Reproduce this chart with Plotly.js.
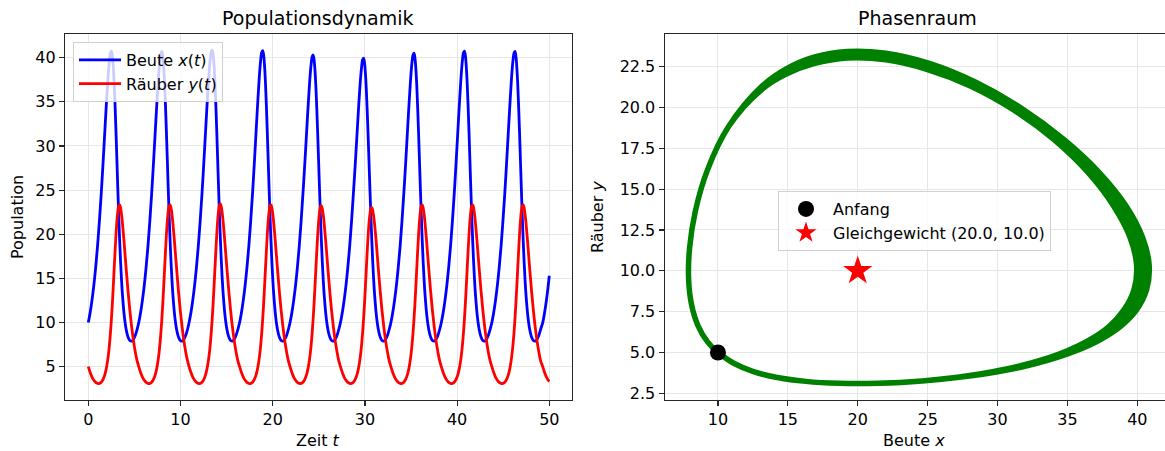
<!DOCTYPE html>
<html>
<head>
<meta charset="utf-8">
<script src="https://cdn.plot.ly/plotly-3.0.1.min.js"></script>
<style>html,body{margin:0;padding:0;background:#fff;}#chart{width:1165px;height:451px;}</style>
</head>
<body>
<div id="chart"></div>
<script>
// Zeitpunkte (pro Zyklus eine Zeile)
const zeit = [
  0,0.2,0.4,0.6,0.8,1,1.2,1.4,1.6,1.7,1.8,1.9,2,2.1,2.2,2.3,2.4,2.5,2.6,2.7,2.8,2.9,3,3.1,3.2,3.3,3.4,3.5,3.6,3.7,3.9,4.1,4.3,4.5,4.7,4.9,5.1,5.3,
  5.47,5.67,5.87,6.07,6.27,6.47,6.67,6.87,7.07,7.17,7.27,7.37,7.47,7.57,7.67,7.77,7.87,7.97,8.07,8.17,8.27,8.37,8.47,8.57,8.67,8.77,8.87,8.97,9.07,9.17,9.37,9.57,9.77,9.97,10.17,10.37,10.57,10.77,
  10.93,11.13,11.33,11.53,11.73,11.93,12.13,12.33,12.53,12.63,12.73,12.83,12.93,13.03,13.13,13.23,13.33,13.43,13.53,13.63,13.73,13.83,13.93,14.03,14.13,14.23,14.33,14.43,14.53,14.63,14.83,15.03,15.23,15.43,15.63,15.83,16.03,16.23,
  16.41,16.61,16.81,17.01,17.21,17.41,17.61,17.81,18.01,18.11,18.21,18.31,18.41,18.51,18.61,18.71,18.81,18.91,19.01,19.11,19.21,19.31,19.41,19.51,19.61,19.71,19.81,19.91,20.01,20.11,20.31,20.51,20.71,20.91,21.11,21.31,21.51,21.71,
  21.88,22.08,22.28,22.48,22.68,22.88,23.08,23.28,23.48,23.58,23.68,23.78,23.88,23.98,24.08,24.18,24.28,24.38,24.48,24.58,24.68,24.78,24.88,24.98,25.08,25.18,25.28,25.38,25.48,25.58,25.78,25.98,26.18,26.38,26.58,26.78,26.98,27.18,
  27.35,27.55,27.75,27.95,28.15,28.35,28.55,28.75,28.95,29.05,29.15,29.25,29.35,29.45,29.55,29.65,29.75,29.85,29.95,30.05,30.15,30.25,30.35,30.45,30.55,30.65,30.75,30.85,30.95,31.05,31.25,31.45,31.65,31.85,32.05,32.25,32.45,32.65,
  32.82,33.02,33.22,33.42,33.62,33.82,34.02,34.22,34.42,34.52,34.62,34.72,34.82,34.92,35.02,35.12,35.22,35.32,35.42,35.52,35.62,35.72,35.82,35.92,36.02,36.12,36.22,36.32,36.42,36.52,36.72,36.92,37.12,37.32,37.52,37.72,37.92,38.12,
  38.29,38.49,38.69,38.89,39.09,39.29,39.49,39.69,39.89,39.99,40.09,40.19,40.29,40.39,40.49,40.59,40.69,40.79,40.89,40.99,41.09,41.19,41.29,41.39,41.49,41.59,41.69,41.79,41.89,41.99,42.19,42.39,42.59,42.79,42.99,43.19,43.39,43.59,
  43.77,43.97,44.17,44.37,44.57,44.77,44.97,45.17,45.37,45.47,45.57,45.67,45.77,45.87,45.97,46.07,46.17,46.27,46.37,46.47,46.57,46.67,46.77,46.87,46.97,47.07,47.17,47.27,47.37,47.47,47.67,47.87,48.07,48.27,48.47,48.67,48.87,49.07,
  49.29,49.49,49.69,49.89,50
];
// Beute x(t)
const beute = [
  10,11.13,12.54,14.24,16.28,18.67,21.45,24.6,28.12,29.97,31.84,33.7,35.51,37.19,38.67,39.83,40.56,40.75,40.28,39.1,37.19,34.64,31.63,28.37,25.1,22.01,19.25,16.86,14.85,13.19,10.75,9.24,8.38,7.97,7.9,8.11,8.57,9.27,
  10,11.13,12.54,14.24,16.28,18.67,21.45,24.6,28.11,29.95,31.82,33.67,35.48,37.15,38.63,39.78,40.51,40.7,40.23,39.05,37.15,34.6,31.6,28.35,25.09,22.01,19.25,16.86,14.85,13.19,10.75,9.24,8.38,7.97,7.9,8.11,8.57,9.27,
  10,11.13,12.54,14.24,16.28,18.67,21.45,24.6,28.15,30.01,31.89,33.76,35.58,37.27,38.76,39.93,40.66,40.85,40.38,39.2,37.28,34.72,31.69,28.41,25.12,22.01,19.25,16.86,14.85,13.19,10.75,9.24,8.38,7.97,7.9,8.11,8.57,9.27,
  10,11.13,12.54,14.24,16.28,18.67,21.45,24.6,28.14,29.99,31.87,33.73,35.55,37.23,38.72,39.88,40.61,40.8,40.33,39.15,37.24,34.68,31.66,28.39,25.11,22.01,19.25,16.86,14.85,13.19,10.75,9.24,8.38,7.97,7.9,8.11,8.57,9.27,
  10,11.13,12.54,14.24,16.28,18.67,21.45,24.6,27.99,29.79,31.62,33.43,35.2,36.83,38.27,39.38,40.11,40.3,39.83,38.65,36.79,34.28,31.36,28.19,25.01,22.01,19.25,16.86,14.85,13.19,10.75,9.24,8.38,7.97,7.9,8.11,8.57,9.27,
  10,11.13,12.54,14.24,16.28,18.67,21.45,24.6,27.88,29.65,31.44,33.22,34.95,36.55,37.95,39.03,39.76,39.95,39.48,38.3,36.47,34,31.15,28.05,24.94,22.01,19.25,16.86,14.85,13.19,10.75,9.24,8.38,7.97,7.9,8.11,8.57,9.27,
  10,11.13,12.54,14.24,16.28,18.67,21.45,24.6,28.05,29.87,31.72,33.55,35.34,36.99,38.45,39.58,40.31,40.5,40.03,38.85,36.97,34.44,31.48,28.27,25.05,22.01,19.25,16.86,14.85,13.19,10.75,9.24,8.38,7.97,7.9,8.11,8.57,9.27,
  10,11.13,12.54,14.24,16.28,18.67,21.45,24.6,28.12,29.97,31.84,33.7,35.51,37.19,38.67,39.83,40.56,40.75,40.28,39.1,37.19,34.64,31.63,28.37,25.1,22.01,19.25,16.86,14.85,13.19,10.75,9.24,8.38,7.97,7.9,8.11,8.57,9.27,
  10,11.13,12.54,14.24,16.28,18.67,21.45,24.6,28.11,29.95,31.82,33.67,35.48,37.15,38.63,39.78,40.51,40.7,40.23,39.05,37.15,34.6,31.6,28.35,25.09,22.01,19.25,16.86,14.85,13.19,10.75,9.24,8.38,7.97,7.9,8.11,8.57,9.27,
  10,11.13,12.54,14.24,15.3
];
// Räuber y(t)
const raeuber = [
  5,4.34,3.83,3.47,3.23,3.11,3.11,3.25,3.57,3.82,4.14,4.56,5.09,5.75,6.57,7.59,8.84,10.32,12.04,13.97,16.02,18.06,19.94,21.5,22.61,23.22,23.33,22.98,22.27,21.29,18.82,16.16,13.64,11.4,9.51,7.93,6.65,5.63,
  5,4.34,3.83,3.47,3.23,3.11,3.11,3.25,3.57,3.82,4.14,4.56,5.09,5.75,6.57,7.59,8.84,10.32,12.04,13.97,16.02,18.06,19.94,21.5,22.61,23.22,23.33,22.98,22.27,21.29,18.82,16.16,13.64,11.4,9.51,7.93,6.65,5.63,
  5,4.34,3.83,3.47,3.23,3.11,3.11,3.25,3.57,3.82,4.14,4.56,5.09,5.75,6.57,7.59,8.84,10.32,12.04,13.97,16.02,18.06,19.97,21.56,22.7,23.32,23.43,23.08,22.35,21.34,18.82,16.16,13.64,11.4,9.51,7.93,6.65,5.63,
  5,4.34,3.83,3.47,3.23,3.11,3.11,3.25,3.57,3.82,4.14,4.56,5.09,5.75,6.57,7.59,8.84,10.32,12.04,13.97,16.02,18.06,19.94,21.5,22.61,23.22,23.33,22.98,22.27,21.29,18.82,16.16,13.64,11.4,9.51,7.93,6.65,5.63,
  5,4.34,3.83,3.47,3.23,3.11,3.11,3.25,3.57,3.82,4.14,4.56,5.09,5.75,6.57,7.59,8.84,10.32,12.04,13.97,16.02,18.06,19.91,21.44,22.52,23.12,23.23,22.88,22.19,21.24,18.82,16.16,13.64,11.4,9.51,7.93,6.65,5.63,
  5,4.34,3.83,3.47,3.23,3.11,3.11,3.25,3.57,3.82,4.14,4.56,5.09,5.75,6.57,7.59,8.84,10.32,12.04,13.97,16.02,18.06,19.85,21.32,22.34,22.92,23.03,22.68,22.03,21.14,18.82,16.16,13.64,11.4,9.51,7.93,6.65,5.63,
  5,4.34,3.83,3.47,3.23,3.11,3.11,3.25,3.57,3.82,4.14,4.56,5.09,5.75,6.57,7.59,8.84,10.32,12.04,13.97,16.02,18.06,19.94,21.5,22.61,23.22,23.33,22.98,22.27,21.29,18.82,16.16,13.64,11.4,9.51,7.93,6.65,5.63,
  5,4.34,3.83,3.47,3.23,3.11,3.11,3.25,3.57,3.82,4.14,4.56,5.09,5.75,6.57,7.59,8.84,10.32,12.04,13.97,16.02,18.06,19.94,21.5,22.61,23.22,23.33,22.98,22.27,21.29,18.82,16.16,13.64,11.4,9.51,7.93,6.65,5.63,
  5,4.34,3.83,3.47,3.23,3.11,3.11,3.25,3.57,3.82,4.14,4.56,5.09,5.75,6.57,7.59,8.84,10.32,12.04,13.97,16.02,18.06,19.94,21.5,22.61,23.22,23.33,22.98,22.27,21.29,18.82,16.16,13.64,11.4,9.51,7.93,6.65,5.63,
  5,4.34,3.83,3.47,3.33
];
const anfangX = [10];
const anfangY = [5];
const gleichX = [20];
const gleichY = [10];
const zeitTicks = [0,10,20,30,40,50];
const popTicks = [5,10,15,20,25,30,35,40];
const beuteTicks = [10,15,20,25,30,35,40];
const raeuberTicks = [2.5,5,7.5,10,12.5,15,17.5,20,22.5];
const raeuberTickText = ['2.5','5.0','7.5','10.0','12.5','15.0','17.5','20.0','22.5'];

const W = 1165, H = 451;
const axisCommon = {
  showline:true, linecolor:'#262626', linewidth:1.2,
  ticks:'outside', ticklen:5, tickwidth:1.2, tickcolor:'#262626',
  showgrid:true, gridcolor:'#e6e6e6', gridwidth:1, zeroline:false,
  tickfont:{size:16, color:'#000'}, fixedrange:true
};

const traces = [
  {x:zeit, y:beute, type:'scatter', mode:'lines', name:'Beute <i>x</i>(<i>t</i>)',
   line:{color:'#0000ff', width:2.8, shape:'spline', smoothing:1}, xaxis:'x', yaxis:'y', legend:'legend'},
  {x:zeit, y:raeuber, type:'scatter', mode:'lines', name:'Räuber <i>y</i>(<i>t</i>)',
   line:{color:'#ff0000', width:2.8, shape:'spline', smoothing:1}, xaxis:'x', yaxis:'y', legend:'legend'},
  {x:beute, y:raeuber, type:'scatter', mode:'lines', showlegend:false,
   line:{color:'#008000', width:5.5, shape:'spline', smoothing:1}, xaxis:'x2', yaxis:'y2'},
  {x:anfangX, y:anfangY, type:'scatter', mode:'markers', name:'Anfang',
   marker:{color:'#000', size:16, symbol:'circle'}, xaxis:'x2', yaxis:'y2', legend:'legend2'},
  {x:gleichX, y:gleichY, type:'scatter', mode:'markers', name:'Gleichgewicht (20.0, 10.0)',
   marker:{color:'#ff0000', size:22, symbol:'star'}, xaxis:'x2', yaxis:'y2', legend:'legend2'}
];

const layout = {
  width:W, height:H, margin:{l:0,r:0,t:0,b:0},
  paper_bgcolor:'#fff', plot_bgcolor:'#fff',
  font:{family:'DejaVu Sans, sans-serif', size:16, color:'#000'},
  showlegend:true,
  xaxis:Object.assign({}, axisCommon, {domain:[65/W, 571.7/W], range:[-2.53,52.43], tickvals:zeitTicks, mirror:true, anchor:'y'}),
  yaxis:Object.assign({}, axisCommon, {domain:[1-400/H, 1-34/H], range:[1.23,42.68], tickvals:popTicks, mirror:true, anchor:'x'}),
  xaxis2:Object.assign({}, axisCommon, {domain:[664.7/W, 1], range:[6.19,41.98], tickvals:beuteTicks, mirror:true, anchor:'y2'}),
  yaxis2:Object.assign({}, axisCommon, {domain:[1-400/H, 1-34/H], range:[2.09,24.5], tickvals:raeuberTicks, ticktext:raeuberTickText, mirror:false, anchor:'x2'}),
  legend:{x:73/W, y:1-42/H, xanchor:'left', yanchor:'top', bgcolor:'rgba(255,255,255,0.8)',
          bordercolor:'#d0d0d0', borderwidth:1, font:{size:16, color:'#000'}, tracegroupgap:0, itemwidth:42},
  legend2:{x:778/W, y:1-191/H, xanchor:'left', yanchor:'top', bgcolor:'rgba(255,255,255,0.8)',
          bordercolor:'#d0d0d0', borderwidth:1, font:{size:16, color:'#000'}, tracegroupgap:0, itemwidth:44},
  annotations:[
    {text:'Populationsdynamik', xref:'paper', yref:'paper', x:318/W, y:1-18/H, xanchor:'center', yanchor:'middle', showarrow:false, font:{size:19, color:'#000'}},
    {text:'Phasenraum', xref:'paper', yref:'paper', x:917/W, y:1-18/H, xanchor:'center', yanchor:'middle', showarrow:false, font:{size:19, color:'#000'}},
    {text:'Zeit <i>t</i>', xref:'paper', yref:'paper', x:318/W, y:1-440/H, xanchor:'center', yanchor:'middle', showarrow:false, font:{size:16, color:'#000'}},
    {text:'Beute <i>x</i>', xref:'paper', yref:'paper', x:914/W, y:1-440/H, xanchor:'center', yanchor:'middle', showarrow:false, font:{size:16, color:'#000'}},
    {text:'Population', xref:'paper', yref:'paper', x:17/W, y:1-217/H, xanchor:'center', yanchor:'middle', textangle:-90, showarrow:false, font:{size:16, color:'#000'}},
    {text:'Räuber <i>y</i>', xref:'paper', yref:'paper', x:597/W, y:1-217/H, xanchor:'center', yanchor:'middle', textangle:-90, showarrow:false, font:{size:16, color:'#000'}}
  ]
};

Plotly.newPlot('chart', traces, layout, {displayModeBar:false, staticPlot:true});
</script>
</body>
</html>
